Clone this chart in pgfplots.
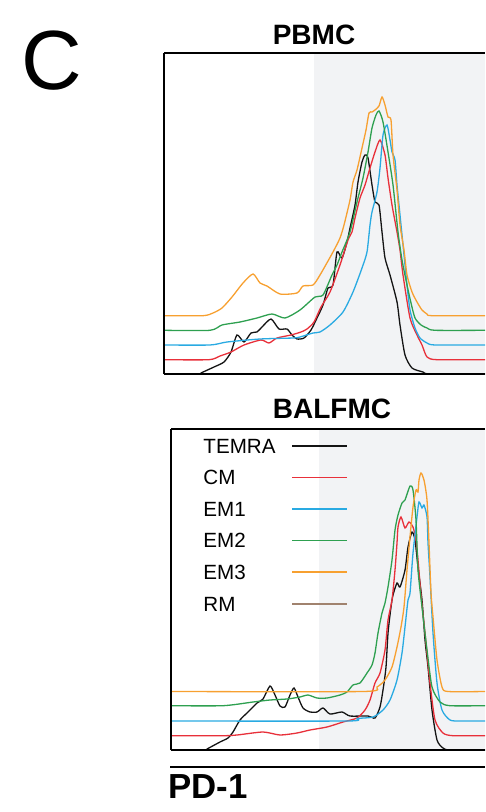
\documentclass[border=0pt]{standalone}
\usepackage{fontspec}
\setmainfont{Liberation Sans}
\usepackage{pgfplots}
\pgfplotsset{compat=1.18}

\definecolor{cTEMRA}{RGB}{20,20,20}
\definecolor{cCM}{RGB}{232,48,58}
\definecolor{cEMone}{RGB}{41,170,226}
\definecolor{cEMtwo}{RGB}{46,160,80}
\definecolor{cEMthree}{RGB}{247,160,48}
\definecolor{cRM}{RGB}{160,130,110}
\definecolor{gate}{RGB}{242,243,245}

\pgfplotsset{
  histo/.style={
    scale only axis, axis x line=box, axis y line=left, axis on top,
    xtick=\empty, ytick=\empty,
    axis line style={line width=0.6pt, black, -},
    ymin=0, ymax=321, xmin=0,
  },
  every axis plot/.append style={line width=0.65pt, smooth, tension=0.4, no markers},
}

\begin{document}
\begin{tikzpicture}
% page frame
\path (0pt,0pt) rectangle (242.5pt,-406pt);

% panel letter
\node[anchor=base west, inner sep=0pt, font=\fontsize{42}{48}\selectfont] at (10.5pt,-44.8pt) {C};

% ---------------- PBMC ----------------
\node[anchor=base, inner sep=0pt, font=\bfseries\fontsize{14}{16}\selectfont] at (157pt,-22.5pt) {PBMC};
\begin{axis}[histo, at={(82pt,-187pt)}, anchor=south west,
  width=160.5pt, height=160.5pt, xmax=321]
  \fill[gate] (axis cs:150,0) rectangle (axis cs:321,321);
  % TEMRA
  \addplot[cTEMRA] coordinates {(0,0)(36,0)(37,1)(50,7)(60,12)(67,22)(73,39)(80,32)(87,41)(93,42)(98,47)(107,55)(115,45)(123,45)(128,39)(133,35)(140,36)(147,44)(153,56)(159,69)(164,86)(169,89)(173,122)(178,116)(183,132)(186,146)(191,169)(194,192)(198,212)(201,219)(204,216)(208,189)(211,172)(215,169)(218,142)(221,116)(226,99)(233,72)(236,49)(241,19)(248,6)(259,2)(266,0)(321,0)};
  % CM
  \addplot[cCM] coordinates {(0,14.3)(45,14.3)(56,18)(67,22)(80,29)(97,34)(105,31)(113,36)(127,39)(137,42)(143,45)(150,52)(157,67)(166,82)(176,109)(184,134)(188,142)(191,156)(196,176)(201,189)(206,206)(211,222)(216,234)(221,219)(224,196)(228,169)(233,142)(236,124)(239,99)(246,56)(253,39)(258,29)(263,17)(273,14.3)(321,14.3)};
  % EM1
  \addplot[cEMone] coordinates {(0,29)(46,29)(63,32)(96,35)(129,36)(136,37)(149,41)(156,42)(166,49)(179,62)(189,82)(198,106)(203,122)(206,149)(208,162)(213,182)(216,206)(219,239)(223,249)(226,234)(228,222)(231,214)(233,189)(236,159)(239,129)(243,89)(246,64)(251,46)(256,36)(263,31)(271,29)(321,29)};
  % EM2
  \addplot[cEMtwo] coordinates {(0,43.7)(46,43.7)(58,49)(76,52)(93,56)(108,60)(121,56)(136,64)(151,77)(159,79)(168,99)(173,109)(178,122)(186,142)(193,172)(199,196)(204,222)(208,246)(212,259)(215,263)(219,252)(224,222)(229,189)(234,142)(238,114)(243,89)(247,71)(251,56)(257,49)(263,46)(271,43.7)(321,43.7)};
  % EM3
  \addplot[cEMthree] coordinates {(0,58.3)(39,58.3)(49,61)(58,66)(68,77)(79,91)(89,100)(96,91)(103,88)(116,80)(133,81)(139,88)(149,89)(156,99)(169,122)(176,136)(180,149)(186,174)(189,192)(193,204)(198,226)(202,244)(205,261)(208,262)(211,264)(215,268)(218,277)(221,269)(224,257)(227,254)(229,219)(233,184)(236,149)(240,124)(243,99)(248,82)(253,72)(258,64)(263,60)(268,58.3)(321,58.3)};
\end{axis}

% ---------------- BALFMC ----------------
\node[anchor=base, inner sep=0pt, font=\bfseries\fontsize{14}{16}\selectfont] at (166pt,-209pt) {BALFMC};
\begin{axis}[histo, at={(85.5pt,-375pt)}, anchor=south west,
  width=157pt, height=160.5pt, xmax=314,
  legend cell align=left, legend plot pos=right,
  legend image code/.code={\draw[#1, line width=0.8pt] (0pt,0pt) -- (27.5pt,0pt);},
  legend style={at={(rel axis cs:0.102,0.972)}, anchor=north west,
    draw=none, fill=none, inner sep=0pt, row sep=8.4pt, column sep=8pt,
    font=\fontsize{10.3}{12}\selectfont,
    nodes={inner sep=0pt, text height=7.4pt, text depth=0pt}},
  ]
  \fill[gate] (axis cs:148,0) rectangle (axis cs:314,321);
  \addplot[cTEMRA] coordinates {(0,0)(34,0)(36,1)(49,8)(57,12)(62,18)(69,30)(77,38)(86,47)(92,51)(99,64)(104,55)(109,44)(114,43)(119,55)(123,62)(127,53)(132,42)(139,38)(146,38)(152,42)(159,36)(171,38)(179,34)(197,34)(204,32)(209,43)(212,60)(215,83)(217,117)(220,143)(222,155)(226,167)(229,163)(234,180)(237,203)(241,218)(244,210)(247,183)(251,150)(254,110)(257,83)(261,40)(266,10)(272,2)(279,0)(314,0)};
  \addlegendentry{TEMRA}
  \addplot[cCM] coordinates {(0,14.3)(52,14.3)(66,15)(92,18)(109,15)(126,17)(139,20)(156,23)(172,28)(186,32)(194,40)(199,50)(204,67)(209,77)(214,100)(217,130)(221,150)(224,180)(226,207)(227,223)(230,233)(234,222)(238,228)(242,223)(245,210)(247,190)(250,155)(254,117)(259,67)(264,30)(272,17)(282,14.3)(314,14.3)};
  \addlegendentry{CM}
  \addplot[cEMone] coordinates {(0,29)(176,29)(186,31.5)(202,33)(212,40)(219,50)(226,70)(231,97)(234,123)(237,150)(239,157)(242,197)(246,233)(248,248)(251,242)(253,245)(256,233)(257,207)(259,173)(262,117)(266,67)(271,40)(279,30)(289,29)(314,29)};
  \addlegendentry{EM1}
  \addplot[cEMtwo] coordinates {(0,44.3)(52,44.3)(82,48)(99,50)(116,51)(129,53)(137,55)(146,52)(156,52)(169,55)(176,58)(182,65)(189,67)(196,77)(201,85)(204,97)(207,117)(211,137)(214,147)(217,163)(221,190)(224,220)(227,235)(231,247)(234,250)(239,264)(242,260)(245,230)(247,180)(251,143)(256,100)(261,63)(269,48)(279,44.3)(314,44.3)};
  \addlegendentry{EM2}
  \addplot[cEMthree] coordinates {(0,58.5)(192,58.5)(206,63)(214,70)(221,83)(226,103)(230,123)(233,143)(236,180)(239,213)(242,243)(245,260)(247,258)(248,270)(250,277)(253,270)(256,250)(258,207)(260,157)(262,133)(266,90)(271,63)(277,58.5)(314,58.5)};
  \addlegendentry{EM3}
  \addlegendimage{cRM}
  \addlegendentry{RM}
\end{axis}

% axis label
\draw[line width=0.6pt] (85pt,-383.5pt) -- (242.5pt,-383.5pt);
\node[anchor=base west, inner sep=0pt, font=\bfseries\fontsize{17.4}{20}\selectfont] at (84pt,-399pt) {PD-1};
\end{tikzpicture}
\end{document}
